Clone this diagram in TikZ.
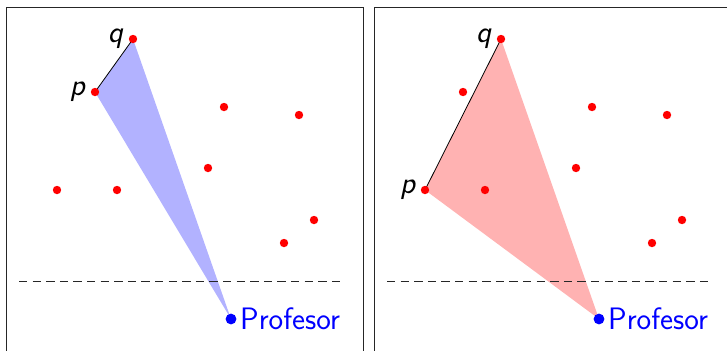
\documentclass[tikz,border=0pt]{standalone}
\usepackage{tikz}
\usetikzlibrary{backgrounds, positioning}
\tikzset{
  punto/.style={circle, fill=red, inner sep=0pt, minimum size=4.2pt},
  profe/.style={circle, fill=blue, inner sep=0pt, minimum size=5.4pt},
  marco/.style={draw=black!85, line width=0.5pt},
  linea/.style={dash pattern=on 4.2pt off 2.6pt, color=black!85, line width=0.5pt},
  etiq/.style={font=\fontsize{15.5}{18}\selectfont\sffamily\itshape, inner sep=2.5pt}
}
% red points (pixel coordinates)
\newcommand{\puntos}{133/39, 95/92, 224/107, 299/115, 208/168, 57/190, 117/190, 314/220, 284/243}

\begin{document}
\begin{tikzpicture}[x=0.5pt, y=-0.5pt, font=\fontsize{15.5}{18}\selectfont\sffamily]
  \useasboundingbox (0,0) rectangle (727,350);
  \clip (0,0) rectangle (727,350);

  % Left panel
  \draw[marco] (6,7) rectangle (363,370);
  \draw[linea] (19,281) -- (345,281);
  \foreach \a/\b [count=\i] in \puntos
    \node[punto] (L\i) at (\a,\b) {};
  \node[profe, label={[text=blue, inner sep=1.5pt]right:Profesor}] (profL) at (231,319) {};
  \node[etiq, left=0pt of L1] {q};
  \node[etiq, left=0pt of L2] {p};
  \begin{scope}[on background layer]
    \fill[blue!30] (L2.center) -- (L1.center) -- (profL.center) -- cycle;
    \draw[thin] (L2.center) -- (L1.center);
  \end{scope}

  % Right panel
  \begin{scope}[xshift=184pt]
    \draw[marco] (6,7) rectangle (363,370);
    \draw[linea] (19,281) -- (345,281);
    \foreach \a/\b [count=\i] in \puntos
      \node[punto] (R\i) at (\a,\b) {};
    \node[profe, label={[text=blue, inner sep=1.5pt]right:Profesor}] (profR) at (231,319) {};
    \node[etiq, left=0pt of R1] {q};
    \node[etiq, left=0pt of R6] {p};
    \begin{scope}[on background layer]
      \fill[red!30] (R6.center) -- (R1.center) -- (profR.center) -- cycle;
      \draw[thin] (R6.center) -- (R1.center);
    \end{scope}
  \end{scope}
\end{tikzpicture}
\end{document}
